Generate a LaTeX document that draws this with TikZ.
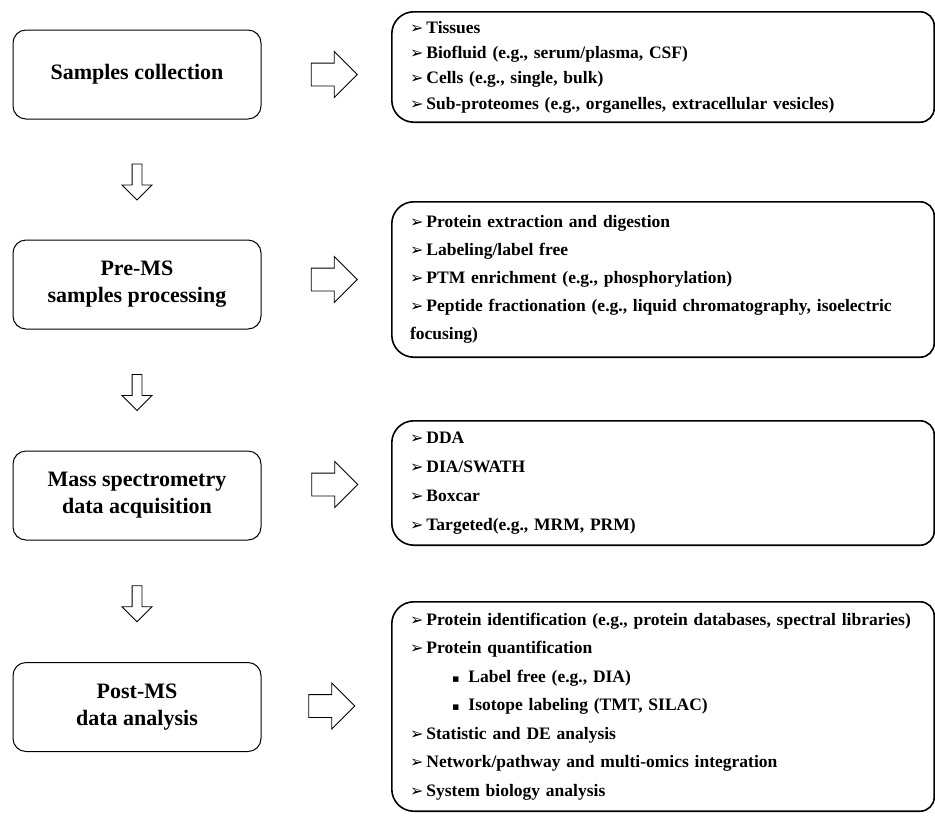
\documentclass[tikz,border=0pt]{standalone}
\usepackage{fontspec}
\setmainfont{Liberation Serif}
\newfontfamily\symfont{DejaVu Sans}
\usetikzlibrary{shapes.arrows,positioning,calc}
\newcommand\arr{{\symfont\fontsize{16}{16}\selectfont ➢}\hspace{3pt}}
\newcommand\sqb{\hspace*{42pt}{\symfont\fontsize{11}{11}\selectfont ▪}\hspace{9pt}}

\begin{document}
\begin{tikzpicture}[x=1pt,y=-1pt,
  stagebox/.style={draw,line width=1pt,rounded corners=13pt,minimum width=248pt,minimum height=89pt,align=center,font=\fontsize{22}{27}\selectfont\bfseries},
  listbox/.style={inner xsep=18pt,inner ysep=0pt,text width=506pt,align=left,minimum width=542pt},
  rarrow/.style={draw,single arrow,single arrow head extend=11.5pt,inner sep=11pt,minimum height=46pt,line width=0.9pt},
  darrow/.style={draw,single arrow,shape border rotate=270,single arrow head extend=10pt,inner sep=4.5pt,minimum height=36pt,line width=0.9pt}]
\useasboundingbox (0,0) rectangle (935,815);

% workflow stages
\foreach \txt/\y [count=\n] in {{Samples collection}/74.5,{Pre-MS\\samples processing}/284.5,{Mass spectrometry\\data acquisition}/495.5,{Post-MS\\data analysis}/707}
  \node[stagebox] (L\n) at (137,\y) {\txt};

\foreach \a/\b in {1/2,2/3,3/4}
  \node[darrow] (D\a) at ($(L\a.south)!.5!(L\b.north)$) {};

% details on the right
\node[listbox,minimum height=110pt,font=\fontsize{17.5}{25.3}\selectfont\bfseries] (R1) at (663,67) {\arr Tissues\\
  \arr Biofluid (e.g., serum/plasma, CSF)\\
  \arr Cells (e.g., single, bulk)\\
  \arr Sub-proteomes (e.g., organelles, extracellular vesicles)};
\node[listbox,minimum height=155pt,font=\fontsize{17.5}{28}\selectfont\bfseries] (R2) at (663,279.5) {\arr Protein extraction and digestion\\
  \arr Labeling/label free\\
  \arr PTM enrichment (e.g., phosphorylation)\\
  \arr Peptide fractionation (e.g., liquid chromatography, isoelectric\\
  focusing)};
\node[listbox,minimum height=124pt,font=\fontsize{17.5}{29}\selectfont\bfseries] (R3) at (663,483) {\arr DDA\\
  \arr DIA/SWATH\\
  \arr Boxcar\\
  \arr Targeted(e.g., MRM, PRM)};
\node[listbox,minimum height=209pt,font=\fontsize{17.5}{28.5}\selectfont\bfseries] (R4) at (663,706.5) {\arr Protein identification (e.g., protein databases, spectral libraries)\\
  \arr Protein quantification\\
  \sqb Label free (e.g., DIA)\\
  \sqb Isotope labeling (TMT, SILAC)\\
  \arr Statistic and DE analysis\\
  \arr Network/pathway and multi-omics integration\\
  \arr System biology analysis};

\foreach \n in {1,...,4}
  \draw[line width=1.6pt] (R\n.north) [rounded corners=22pt] -| (R\n.west) |- (R\n.south) [rounded corners=14pt] -| (R\n.east) |- (R\n.north);

\node[rarrow] (A1) at (328.5,74.5) {};
\node[rarrow] (A2) at (328.5,279.5) {};
\node[rarrow] (A3) at (329,484.5) {};
\node[rarrow] (A4) at (326,706) {};
\end{tikzpicture}
\end{document}
